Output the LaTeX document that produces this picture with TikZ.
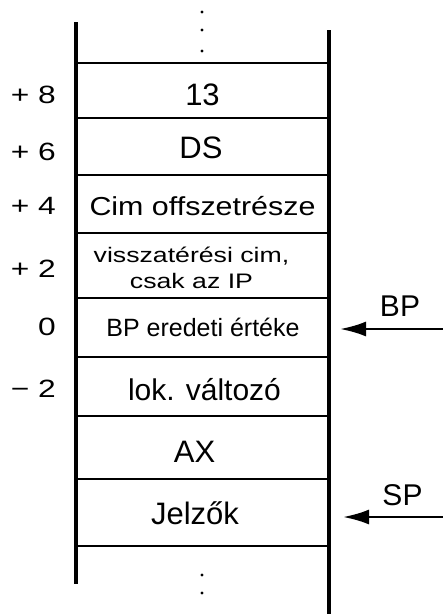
\documentclass[tikz,border=0pt]{standalone}
\usepackage{fontspec}
\setmainfont{Liberation Sans}
\newfontfamily\widefont{Liberation Sans}[FakeStretch=1.17]
\newfontfamily\widerfont{Liberation Sans}[FakeStretch=1.27]
\usetikzlibrary{arrows.meta}

\begin{document}
\begin{tikzpicture}[x=1pt,y=-1pt,
  every node/.style={inner sep=0pt},
  cell/.style={anchor=base,font=\fontsize{31}{31}\selectfont},
  offs/.style={anchor=base east,font=\widerfont\fontsize{25}{25}\selectfont},
  reg/.style={anchor=base,font=\fontsize{30}{30}\selectfont},
  wall/.style={line width=4pt},
  sep/.style={line width=1.6pt},
  ptr/.style={line width=2.5pt,-{Latex[length=26pt,width=15pt]}}]
\useasboundingbox (0,0) rectangle (443,614);
% stack walls and cell borders
\draw[wall] (76,22) -- (76,584);
\draw[wall] (329,30) -- (329,614);
\foreach \y in {63,118,175,233,298,357,416,479,546}
  \draw[sep] (76,\y) -- (329,\y);
% continuation dots
\foreach \y in {12,30,51,575,593}
  \fill (202,\y) circle (1.7);

% cell contents
\node[cell] (c13) at (202.5,105) {13};
\node[cell] (cds) at (201,158) {DS};
\node[cell,font=\widefont\fontsize{26}{26}\selectfont] (cofs) at (202.5,215) {Cim offszetrésze};
\node[cell,font=\widerfont\fontsize{21}{26}\selectfont,align=center] (cret) at (191.5,288) {visszatérési cim,\\csak az IP};
\node[cell,font=\fontsize{25}{25}\selectfont] (cbp) at (203,336) {BP eredeti értéke};
\node[cell,font=\fontsize{30}{30}\selectfont] (clok) at (204.5,400) {lok. változó};
\node[cell] (cax) at (194.5,462) {AX};
\node[cell] (cflag) at (195,524) {Jelzők};

% offsets from BP
\node[offs] (o8) at (56,103) {+ 8};
\node[offs] (o6) at (56,160) {+ 6};
\node[offs] (o4) at (56,214) {+ 4};
\node[offs] (o2) at (56,277) {+ 2};
\node[offs] (o0) at (56,335) {0};
\node[offs] (om2) at (56,397) {− 2};

% pointer registers
\coordinate (bpfrom) at (443,329);
\coordinate (bpto) at (340,329);
\coordinate (spfrom) at (443,517);
\coordinate (spto) at (343,517);
\draw[ptr] (bpfrom) -- (bpto);
\draw[ptr] (spfrom) -- (spto);
\node[reg] (bp) at (400,316) {BP};
\node[reg] (sp) at (402.5,505) {SP};
\end{tikzpicture}
\end{document}
